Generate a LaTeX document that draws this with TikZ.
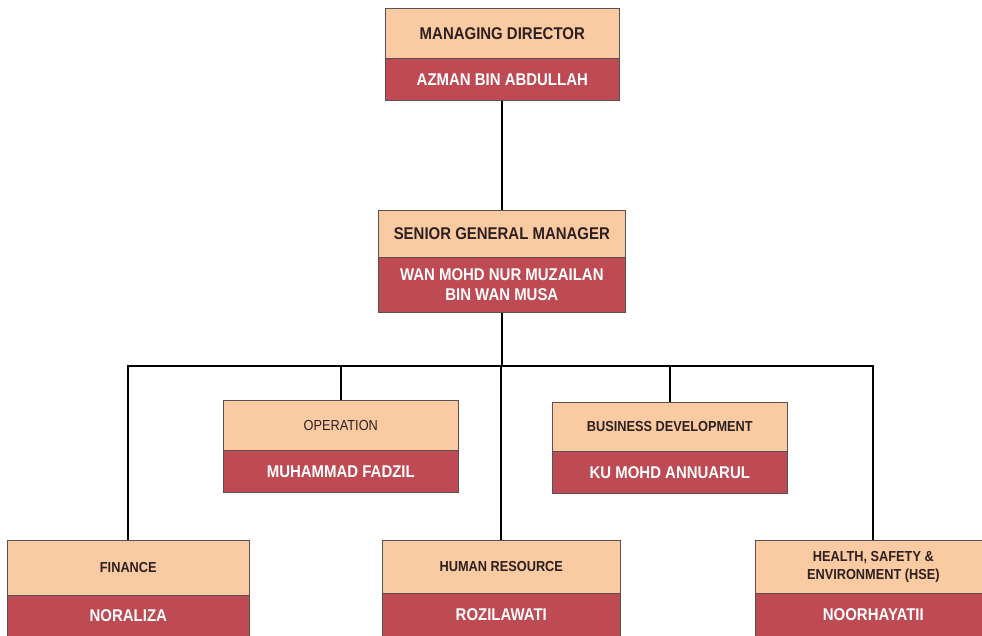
\documentclass[tikz,border=0pt]{standalone}
\usepackage{fontspec}
\setmainfont[FakeStretch=0.88]{Liberation Sans}
\definecolor{peach}{RGB}{250,202,162}
\definecolor{redbox}{RGB}{190,74,84}
\definecolor{headtext}{RGB}{45,32,32}
\definecolor{edge}{RGB}{90,80,80}
\begin{document}
\begin{tikzpicture}[x=1pt,y=-1pt,
  head/.style={draw=edge,line width=0.6pt,fill=peach,anchor=north west,inner sep=0pt,align=center,text=headtext,font=\bfseries\fontsize{14.5}{18}\selectfont},
  bighead/.style={head,font=\bfseries\fontsize{17}{20}\selectfont},
  namebox/.style={draw=edge,line width=0.6pt,fill=redbox,anchor=north west,inner sep=0pt,align=center,text=white,font=\bfseries\fontsize{17}{20}\selectfont},
  conn/.style={line width=2.2pt,black}]
\useasboundingbox (0,0) rectangle (982,636);
\fill[white] (0,0) rectangle (982,636);
% Managing director
\node[bighead,minimum width=234pt,minimum height=50pt] (mdh) at (385,8) {MANAGING DIRECTOR};
\node[namebox,minimum width=234pt,minimum height=42pt] (mdn) at (385,58) {AZMAN BIN ABDULLAH};
% Senior general manager
\node[bighead,minimum width=247pt,minimum height=47pt] (sgmh) at (378,210) {SENIOR GENERAL MANAGER};
\node[namebox,minimum width=247pt,minimum height=55pt] (sgmn) at (378,257) {WAN MOHD NUR MUZAILAN\\BIN WAN MUSA};
% Operation
\node[head,font=\fontsize{14.5}{18}\selectfont,minimum width=235pt,minimum height=50pt] (oph) at (223,400) {OPERATION};
\node[namebox,minimum width=235pt,minimum height=42pt] (opn) at (223,450) {MUHAMMAD FADZIL};
% Business development
\node[head,minimum width=235pt,minimum height=49pt] (bdh) at (552,402) {BUSINESS DEVELOPMENT};
\node[namebox,minimum width=235pt,minimum height=42pt] (bdn) at (552,451) {KU MOHD ANNUARUL};
% Finance
\node[head,minimum width=242pt,minimum height=55pt] (finh) at (7,540) {FINANCE};
\node[namebox,minimum width=242pt,minimum height=41pt] (finn) at (7,595) {NORALIZA};
% Human resource
\node[head,minimum width=238pt,minimum height=53pt] (hrh) at (382,540) {HUMAN RESOURCE};
\node[namebox,minimum width=238pt,minimum height=43pt] (hrn) at (382,593) {ROZILAWATI};
% HSE
\node[head,minimum width=236pt,minimum height=53pt] (hseh) at (755,540) {HEALTH, SAFETY \&\\ENVIRONMENT (HSE)};
\node[namebox,minimum width=236pt,minimum height=43pt] (hsen) at (755,593) {NOORHAYATII};
% connectors
\coordinate (bus) at (0,366);
\draw[conn] (mdn.south) -- (mdn.south |- sgmh.north);
\draw[conn] (sgmn.south) -- (sgmn.south |- bus);
\draw[conn] (finh.north) |- (hseh.north |- bus) -- (hseh.north);
\draw[conn] (oph.north |- bus) -- (oph.north);
\draw[conn] (bdh.north |- bus) -- (bdh.north);
\draw[conn] (hrh.north |- bus) -- (hrh.north);
\end{tikzpicture}
\end{document}
